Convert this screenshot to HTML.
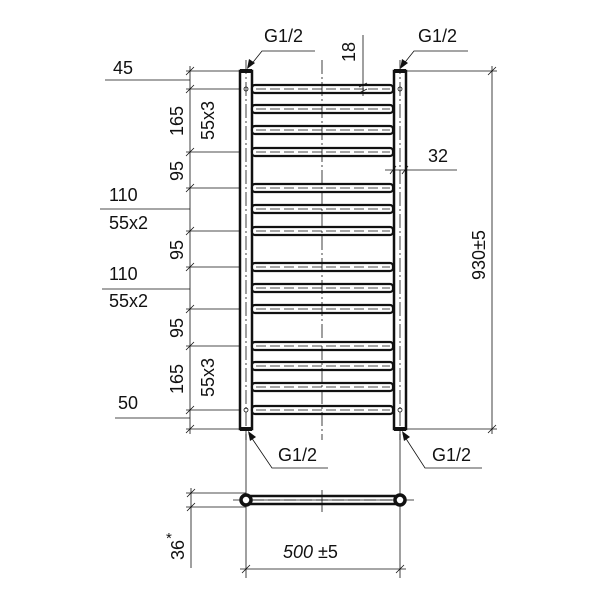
<!DOCTYPE html>
<html><head><meta charset="utf-8"><style>
html,body{margin:0;padding:0;background:#fff;width:600px;height:600px;overflow:hidden}
svg text{font-family:"Liberation Sans",sans-serif;fill:#111}
</style></head><body>
<svg width="600" height="600" viewBox="0 0 600 600" xmlns="http://www.w3.org/2000/svg">
<g stroke="#111" fill="none">
<line x1="246" y1="60" x2="246" y2="440" stroke-width="0.8" stroke-dasharray="14,3,2,3"/>
<line x1="400" y1="60" x2="400" y2="440" stroke-width="0.8" stroke-dasharray="14,3,2,3"/>
<rect x="240" y="71" width="12" height="358" stroke-width="2.5"/>
<rect x="394" y="71" width="12" height="358" stroke-width="2.5"/>
<line x1="240" y1="71" x2="252" y2="71" stroke-width="4"/>
<line x1="394" y1="71" x2="406" y2="71" stroke-width="4"/>
<line x1="240" y1="429" x2="252" y2="429" stroke-width="4"/>
<line x1="394" y1="429" x2="406" y2="429" stroke-width="4"/>
<circle cx="246" cy="89" r="2" stroke-width="0.8"/><circle cx="400" cy="89" r="2" stroke-width="0.8"/>
<circle cx="246" cy="410" r="2" stroke-width="0.8"/><circle cx="400" cy="410" r="2" stroke-width="0.8"/>
</g>
<g stroke="#111" fill="#fff">
<g stroke-width="2.2">
<rect x="252" y="85" width="141" height="8" rx="3"/>
<rect x="252" y="105" width="141" height="8" rx="3"/>
<rect x="252" y="126" width="141" height="8" rx="3"/>
<rect x="252" y="148" width="141" height="8" rx="3"/>
<rect x="252" y="184" width="141" height="8" rx="3"/>
<rect x="252" y="205" width="141" height="8" rx="3"/>
<rect x="252" y="227" width="141" height="8" rx="3"/>
<rect x="252" y="263" width="141" height="8" rx="3"/>
<rect x="252" y="284" width="141" height="8" rx="3"/>
<rect x="252" y="305" width="141" height="8" rx="3"/>
<rect x="252" y="342" width="141" height="8" rx="3"/>
<rect x="252" y="362" width="141" height="8" rx="3"/>
<rect x="252" y="383" width="141" height="8" rx="3"/>
<rect x="252" y="406" width="141" height="8" rx="3"/>
</g>
</g>
<g stroke="#111" fill="none" stroke-width="0.7" stroke-dasharray="10,4">
<line x1="256" y1="89" x2="390" y2="89"/><line x1="256" y1="109" x2="390" y2="109"/>
<line x1="256" y1="130" x2="390" y2="130"/><line x1="256" y1="152" x2="390" y2="152"/>
<line x1="256" y1="188" x2="390" y2="188"/><line x1="256" y1="209" x2="390" y2="209"/>
<line x1="256" y1="231" x2="390" y2="231"/><line x1="256" y1="267" x2="390" y2="267"/>
<line x1="256" y1="288" x2="390" y2="288"/><line x1="256" y1="309" x2="390" y2="309"/>
<line x1="256" y1="346" x2="390" y2="346"/><line x1="256" y1="366" x2="390" y2="366"/>
<line x1="256" y1="387" x2="390" y2="387"/><line x1="256" y1="410" x2="390" y2="410"/>
</g>
<line x1="322" y1="60" x2="322" y2="440" stroke="#111" stroke-width="0.8" stroke-dasharray="14,3,2,3"/>
<g stroke="#111" stroke-width="0.8" fill="none">
<line x1="190" y1="66" x2="190" y2="434"/>
<line x1="186" y1="71" x2="240" y2="71"/><line x1="186" y1="89" x2="240" y2="89"/>
<line x1="186" y1="152" x2="240" y2="152"/><line x1="186" y1="188" x2="240" y2="188"/>
<line x1="186" y1="231" x2="240" y2="231"/><line x1="186" y1="267" x2="240" y2="267"/>
<line x1="186" y1="309" x2="240" y2="309"/><line x1="186" y1="346" x2="240" y2="346"/>
<line x1="186" y1="410" x2="240" y2="410"/><line x1="186" y1="429" x2="240" y2="429"/>
<path d="M186 75 l8 -8 M186 93 l8 -8 M186 156 l8 -8 M186 192 l8 -8 M186 235 l8 -8 M186 271 l8 -8 M186 313 l8 -8 M186 350 l8 -8 M186 414 l8 -8 M186 433 l8 -8"/>
<line x1="105" y1="80" x2="190" y2="80"/>
<line x1="100" y1="209" x2="190" y2="209"/>
<line x1="102" y1="289" x2="190" y2="289"/>
<line x1="115" y1="418" x2="190" y2="418"/>
<line x1="406" y1="71" x2="497" y2="71"/><line x1="406" y1="429" x2="497" y2="429"/>
<line x1="492" y1="66" x2="492" y2="434"/>
<path d="M488 75 l8 -8 M488 433 l8 -8"/>
<line x1="363" y1="35" x2="363" y2="96"/>
<path d="M359 87 l8 -4 M359 93 l8 -4"/>
<line x1="385" y1="170" x2="457" y2="170"/>
<path d="M390 174 l6 -8 M402 174 l6 -8"/>
<polyline points="315,51 262,51 250,66"/>
<polyline points="468,51 414,51 402,66"/>
<polyline points="249,434 272,468 328,468"/>
<polyline points="403,434 425,468 482,468"/>
<line x1="246" y1="429" x2="246" y2="578"/>
<line x1="400" y1="429" x2="400" y2="578"/>
<line x1="240" y1="569" x2="406" y2="569"/>
<path d="M242 573 l8 -8 M396 573 l8 -8"/>
<line x1="186" y1="493" x2="246" y2="493"/>
<line x1="186" y1="507" x2="246" y2="507"/>
<line x1="191" y1="488" x2="191" y2="568"/>
<path d="M187 497 l8 -8 M187 511 l8 -8"/>
<line x1="233" y1="500" x2="414" y2="500"/>
<line x1="322" y1="490" x2="322" y2="512"/>
</g>
<g fill="#111">
<path d="M247 69 l2 -10 l6 4 z"/><path d="M400 69 l2 -10 l6 4 z"/>
<path d="M248 431 l2 10 l6 -4 z"/><path d="M402 431 l2 10 l6 -4 z"/>
</g>
<g stroke="#111" fill="none">
<line x1="246" y1="496" x2="400" y2="496" stroke-width="2.5"/>
<line x1="246" y1="504" x2="400" y2="504" stroke-width="2.5"/>
<line x1="252" y1="500" x2="394" y2="500" stroke-width="0.7" stroke-dasharray="12,4"/>
<circle cx="246" cy="500" r="5" stroke-width="3.5" fill="#fff"/>
<circle cx="400" cy="500" r="5" stroke-width="3.5" fill="#fff"/>
</g>
<g font-size="18">
<text x="264" y="42">G1/2</text>
<text x="418" y="42">G1/2</text>
<text x="278" y="461">G1/2</text>
<text x="432" y="461">G1/2</text>
<text x="113" y="74">45</text>
<text x="109" y="201">110</text>
<text x="109" y="229">55x2</text>
<text x="109" y="280">110</text>
<text x="109" y="307">55x2</text>
<text x="118" y="409">50</text>
<text x="428" y="162">32</text>
<text x="283" y="558" font-style="italic">500</text><text x="318" y="558">±5</text>
<text transform="translate(183,136) rotate(-90)">165</text>
<text transform="translate(214,140) rotate(-90)">55x3</text>
<text transform="translate(183,181) rotate(-90)">95</text>
<text transform="translate(183,260) rotate(-90)">95</text>
<text transform="translate(183,338) rotate(-90)">95</text>
<text transform="translate(183,394) rotate(-90)">165</text>
<text transform="translate(214,397) rotate(-90)">55x3</text>
<text transform="translate(355,62) rotate(-90)">18</text>
<text transform="translate(485,280) rotate(-90)">930±5</text>
<text transform="translate(184,560) rotate(-90)">36</text>
<text x="166" y="543" font-size="15">*</text>
</g>
</svg>
</body></html>
